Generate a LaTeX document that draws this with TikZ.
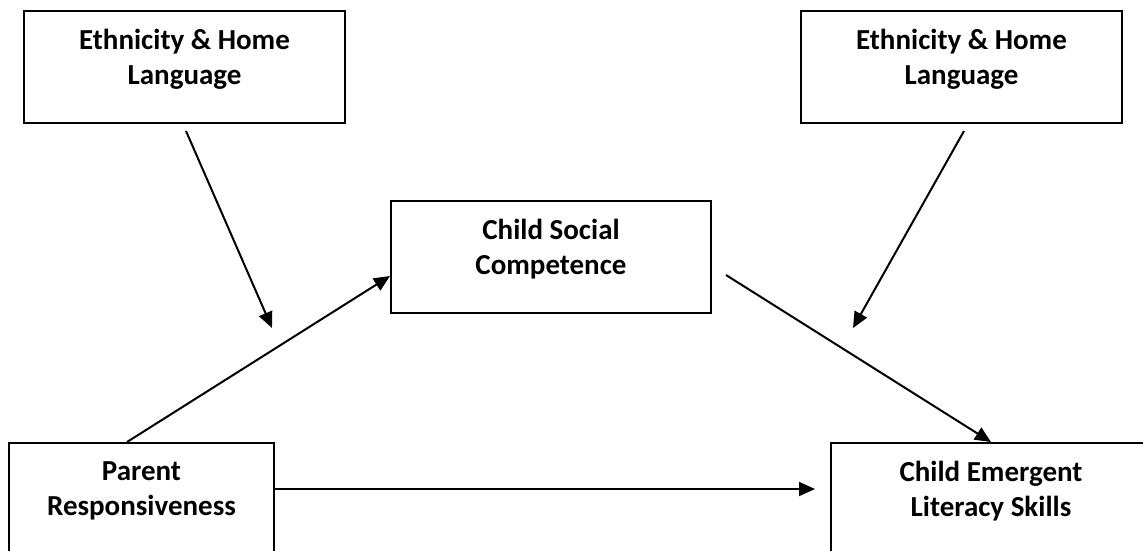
\documentclass[tikz,border=0pt]{standalone}
\usepackage{fontspec}
\setmainfont{Carlito}
\usetikzlibrary{arrows.meta,calc}

\tikzset{
  varbox/.style={draw=black, line width=2pt, rectangle, minimum width=321pt,
                 minimum height=112pt, inner sep=0pt, anchor=north west},
  boxtext/.style={font=\fontsize{29}{35}\selectfont\bfseries, align=center,
                  inner sep=0pt, anchor=north},
  path/.style={draw=black, line width=2pt, -{Triangle[length=16pt,width=14pt]}}
}

\begin{document}
\begin{tikzpicture}[x=1pt,y=-1pt]
  \useasboundingbox (0,0) rectangle (1143,550);
  \clip (0,0) rectangle (1143,550);

  % variable boxes
  \node[varbox] (ethL) at (23,10) {};
  \node[varbox] (ethR) at (800,10) {};
  \node[varbox, minimum width=320pt] (soc) at (390,200) {};
  \node[varbox, minimum width=265pt] (par) at (8,442) {};
  \node[varbox, minimum width=320pt] (lit) at (830,442) {};

  % box labels
  \node[boxtext] (ethLt) at ([yshift=-19pt]ethL.north) {Ethnicity \& Home\\Language};
  \node[boxtext] (ethRt) at ([yshift=-19pt]ethR.north) {Ethnicity \& Home\\Language};
  \node[boxtext] (soct)  at ([yshift=-19pt]soc.north)  {Child Social\\Competence};
  \node[boxtext] (part)  at ([yshift=-19pt]par.north)  {Parent\\Responsiveness};
  \node[boxtext] (litt)  at ([yshift=-19pt]lit.north)  {Child Emergent\\Literacy Skills};

  % moderator arrow tips (free ends)
  \coordinate (modL) at (272,328);
  \coordinate (modR) at (853,328);

  % paths
  \draw[path] ([xshift=1.5pt,yshift=-7pt]ethL.south) -- (modL);
  \draw[path] ([xshift=2.5pt,yshift=-7pt]ethR.south) -- (modR);
  \draw[path] ([xshift=119pt]par.north west) -- ([yshift=-19pt]soc.west);
  \draw[path] ([xshift=14pt,yshift=-18pt]soc.east) -- (lit.north);
  \draw[path] ([yshift=-47pt]par.north east) -- ([xshift=-15pt,yshift=-47pt]lit.north west);
\end{tikzpicture}
\end{document}
